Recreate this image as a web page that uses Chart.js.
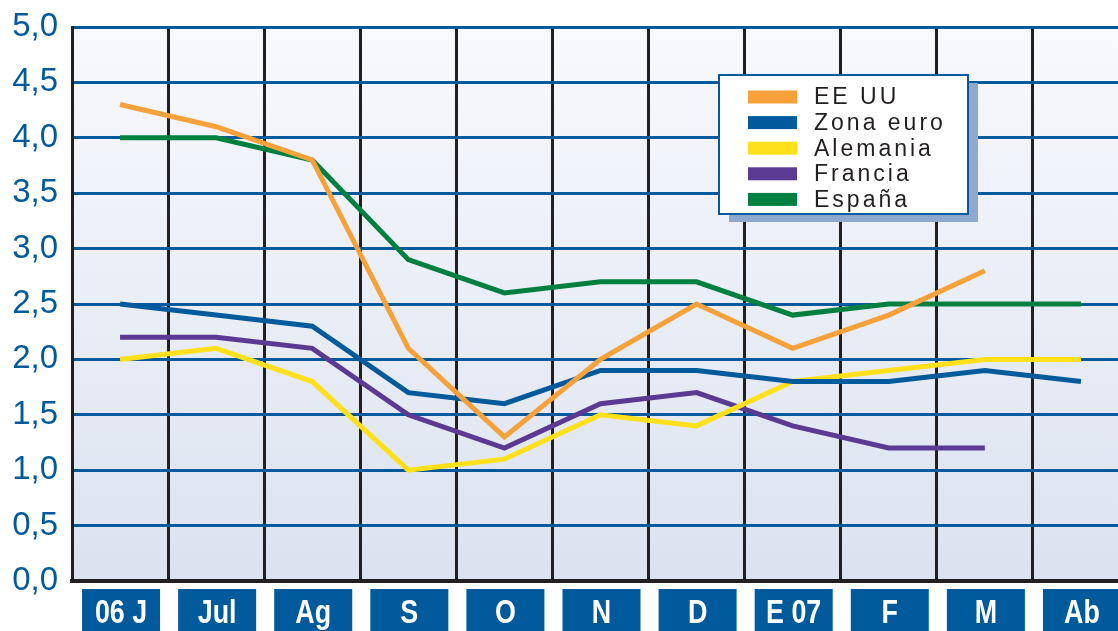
<!DOCTYPE html>
<html>
<head>
<meta charset="utf-8">
<title>Inflación</title>
<script src="https://cdn.jsdelivr.net/npm/chart.js@4.4.1/dist/chart.umd.min.js"></script>
<style>
    html, body { margin: 0; padding: 0; background: #fff; overflow: hidden; }
    #contenedor { width: 1118px; height: 631px; overflow: hidden; }
</style>
</head>
<body>
<div id="contenedor"><canvas id="graficoInflacion" width="1130" height="631"></canvas></div>
<script>
// Meses (jun 2006 - abr 2007)
const meses = ['06 J', 'Jul', 'Ag', 'S', 'O', 'N', 'D', 'E 07', 'F', 'M', 'Ab'];

// Series en %
const eeuu      = [4.3, 4.1, 3.8, 2.1, 1.3, 2.0, 2.5, 2.1, 2.4, 2.8, null];
const zonaEuro  = [2.5, 2.4, 2.3, 1.7, 1.6, 1.9, 1.9, 1.8, 1.8, 1.9, 1.8];
const alemania  = [2.0, 2.1, 1.8, 1.0, 1.1, 1.5, 1.4, 1.8, 1.9, 2.0, 2.0];
const francia   = [2.2, 2.2, 2.1, 1.5, 1.2, 1.6, 1.7, 1.4, 1.2, 1.2, null];
const espana    = [4.0, 4.0, 3.8, 2.9, 2.6, 2.7, 2.7, 2.4, 2.5, 2.5, 2.5];

const AZUL = '#005a9c';
const NEGRO = '#231f20';

// Fondo degradado del área y cajas azules de los meses
const fondoYCajas = {
    id: 'fondoYCajas',
    beforeDraw(chart) {
        const { ctx, chartArea: a, scales } = chart;
        ctx.save();
        const grad = ctx.createLinearGradient(0, a.top, 0, a.bottom);
        grad.addColorStop(0, '#f8f9fd');
        grad.addColorStop(1, '#dbe2ef');
        ctx.fillStyle = grad;
        ctx.fillRect(a.left, a.top, a.right - a.left, a.bottom - a.top);

        // cajas + etiqueta estrecha (la fuente condensada no existe, se escala)
        ctx.font = 'bold 34px "Liberation Sans", Arial, sans-serif';
        ctx.textAlign = 'center';
        ctx.textBaseline = 'middle';
        scales.x.ticks.forEach((t, i) => {
            const cx = scales.x.getPixelForTick(i) + 1;
            ctx.fillStyle = AZUL;
            ctx.fillRect(cx - 39, a.bottom + 8, 78, 60);
            ctx.save();
            ctx.translate(cx, a.bottom + 33);
            ctx.scale(0.79, 1);
            ctx.fillStyle = '#fff';
            ctx.fillText(scales.x.getLabelForValue(t.value), 0, 0);
            ctx.restore();
        });
        ctx.restore();
    }
};

// Leyenda con sombra
const leyenda = {
    id: 'leyenda',
    afterDraw(chart) {
        const { ctx } = chart;
        const x = 719, y = 75, w = 249, h = 139;
        ctx.save();
        ctx.fillStyle = '#8ea8d0';
        ctx.fillRect(x + 10, y + 8, w, h);
        ctx.fillStyle = '#fff';
        ctx.fillRect(x, y, w, h);
        ctx.strokeStyle = AZUL;
        ctx.lineWidth = 2;
        ctx.strokeRect(x, y, w, h);

        ctx.font = '23px "Liberation Sans", Arial, sans-serif';
        ctx.letterSpacing = '3px';
        ctx.textBaseline = 'middle';
        chart.data.datasets.forEach((ds, i) => {
            const fy = 97 + i * 25.6;
            ctx.fillStyle = ds.borderColor;
            ctx.fillRect(748, fy - 6.5, 49, 13);
            ctx.fillStyle = NEGRO;
            ctx.fillText(ds.label, 814, fy + 1);
        });
        ctx.restore();
    }
};

function serie(label, data, color) {
    return {
        label: label,
        data: data,
        borderColor: color,
        backgroundColor: color,
        borderWidth: 5,
        pointRadius: 0,
        tension: 0,
        fill: false,
        borderCapStyle: 'butt'
    };
}

new Chart(document.getElementById('graficoInflacion'), {
    type: 'line',
    data: {
        labels: meses,
        datasets: [
            serie('EE UU', eeuu, '#f7a13a'),
            serie('Zona euro', zonaEuro, AZUL),
            serie('Alemania', alemania, '#ffe01a'),
            serie('Francia', francia, '#5b3a94'),
            serie('España', espana, '#008040')
        ]
    },
    options: {
        responsive: false,
        animation: false,
        devicePixelRatio: 1,
        layout: { padding: { top: 27, right: 1, left: 0, bottom: 0 } },
        plugins: {
            legend: { display: false },
            tooltip: { enabled: false }
        },
        scales: {
            x: {
                z: 0,
                offset: true,
                afterFit: (s) => { s.height = 50; },
                grid: { offset: true, color: NEGRO, lineWidth: 3, drawTicks: false },
                border: { color: NEGRO, width: 4 },
                ticks: {
                    color: 'rgba(0,0,0,0)',
                    maxRotation: 0,
                    autoSkip: false,
                    font: { size: 20 }
                }
            },
            y: {
                z: -1,
                min: 0,
                max: 5,
                afterFit: (s) => { s.width = 72; s.paddingTop = 0; s.paddingBottom = 0; },
                grid: {
                    color: (c) => c.tick && c.tick.value === 0 ? 'rgba(0,0,0,0)' : AZUL,
                    lineWidth: 3,
                    drawTicks: false
                },
                border: { color: NEGRO, width: 3 },
                ticks: {
                    stepSize: 0.5,
                    color: AZUL,
                    padding: 14,
                    font: { family: '"Liberation Sans", Arial, sans-serif', size: 33, lineHeight: 1 },
                    callback: (v) => v.toFixed(1).replace('.', ',')
                }
            }
        }
    },
    plugins: [fondoYCajas, leyenda]
});
</script>
</body>
</html>
